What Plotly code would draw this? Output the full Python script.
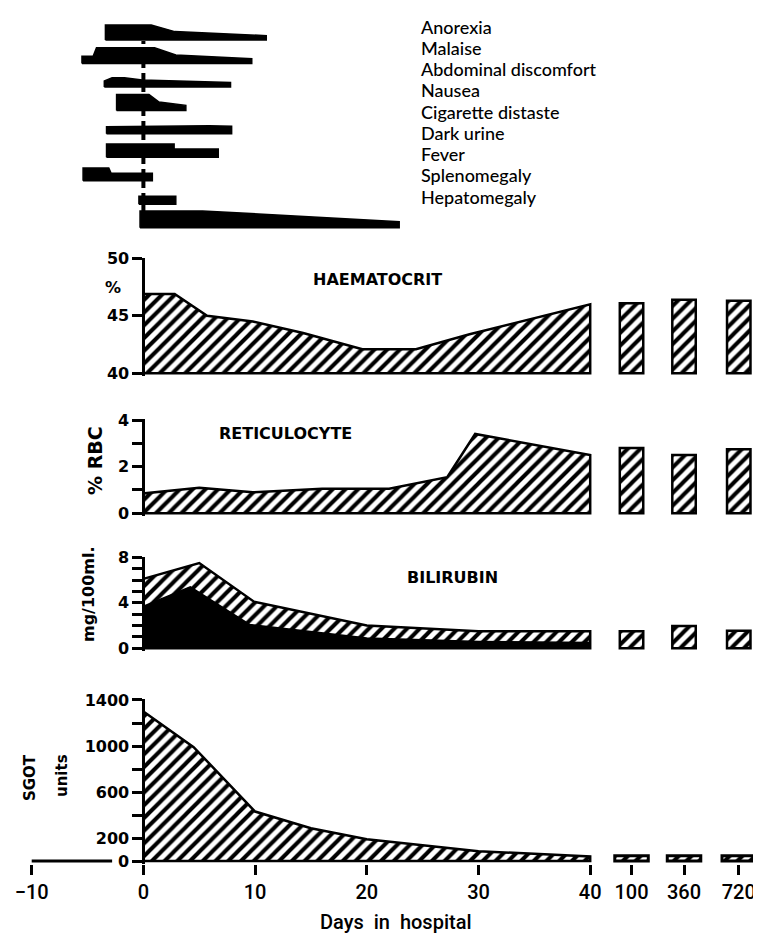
import plotly.graph_objects as go

W, H = 761, 938          # target picture size
OFF = 8                  # page body margin offset in the browser
FW, FH = W - OFF, H - OFF

# ---------------- data ----------------
symptoms = ["Anorexia", "Malaise", "Abdominal discomfort", "Nausea",
            "Cigarette distaste", "Dark urine", "Fever", "Splenomegaly", "Hepatomegaly"]

anorexia_days = [-3.4, 0.7, 2.8, 11.0]
anorexia_level = [3.75, 3.75, 2.1, 1.1]
malaise_days = [-5.5, -4.5, -4.2, 1.0, 2.9, 9.7]
malaise_level = [1.8, 1.8, 3.9, 3.9, 2.1, 1.2]
abdominal_days = [-3.5, -2.8, -1.7, -0.1, 7.8]
abdominal_level = [1.5, 2.3, 2.3, 1.75, 1.1]
nausea_days = [-2.4, 0.5, 1.4, 3.8]
nausea_level = [4.0, 4.0, 2.1, 1.25]
cigarette_days = [-3.3, 5.9, 7.9]
cigarette_level = [1.8, 2.0, 1.9]
dark_urine_days = [-3.3, 2.75, 2.75, 6.7]
dark_urine_level = [3.3, 3.3, 2.1, 2.1]
fever_days = [-5.4, -3.1, -2.9, 0.8]
fever_level = [3.2, 3.2, 1.9, 1.9]
spleno_days = [-0.4, 2.9]
spleno_level = [2.0, 2.0]
hepato_days = [-0.3, 3.2, 5.3, 22.9]
hepato_level = [4.2, 4.2, 4.2, 1.5]

haem_days = [0, 2.8, 5.7, 9.8, 14.3, 19.6, 24.4, 29.2, 40]
haem_pct = [46.9, 46.9, 45.0, 44.5, 43.5, 42.1, 42.1, 43.4, 46.0]
haem_follow = [46.1, 46.4, 46.3]

retic_days = [0, 5.0, 9.8, 16, 22, 27.2, 29.7, 40]
retic_pct = [0.85, 1.1, 0.9, 1.05, 1.05, 1.55, 3.4, 2.5]
retic_follow = [2.8, 2.5, 2.75]

bili_days = [0, 5, 9.9, 20, 30, 40]
bili_total = [6.1, 7.5, 4.1, 2.0, 1.5, 1.5]
bili_direct_days = [0, 4.2, 9.5, 20, 30, 40]
bili_direct = [3.7, 5.4, 2.1, 0.9, 0.6, 0.5]
bili_follow = [1.5, 1.95, 1.55]

sgot_days = [0, 4.5, 10, 15, 20, 30, 40]
sgot_units = [1300, 990, 430, 285, 190, 85, 40]
sgot_follow = [45, 45, 45]

follow_labels = ["100", "360", "720"]
day_ticks = [-10, 0, 10, 20, 30, 40]

# ---------------- layout helpers ----------------
X_M10_PX = 31.7
PX_PER_DAY = 11.17
x_range = [-10 - (X_M10_PX - OFF) / PX_PER_DAY, -10 + (W - X_M10_PX) / PX_PER_DAY]
follow_x = [43.7, 48.4, 53.3]


def xp(px):
    return (px - OFF) / FW


def yp(py):
    return 1 - (py - OFF) / FH


yaxis_pos = xp(X_M10_PX + 10 * PX_PER_DAY)


def panel(v0, p0, v1, p1, lo, hi):
    s = (p0 - p1) / (v1 - v0)
    bot = p0 + (v0 - lo) * s
    top = p0 - (hi - v0) * s
    return dict(domain=[yp(bot), yp(top)], range=[lo, hi])


def area_xy(days, vals, base):
    xs = [days[0]] + list(days) + [days[-1], days[0]]
    ys = [base] + list(vals) + [base, base]
    return xs, ys


HATCH = dict(shape="/", fgcolor="black", bgcolor="white", size=9, solidity=0.45)

fig = go.Figure()

# ---------------- symptoms panel ----------------
profiles = [(anorexia_days, anorexia_level), (malaise_days, malaise_level),
            (abdominal_days, abdominal_level), (nausea_days, nausea_level),
            (cigarette_days, cigarette_level), (dark_urine_days, dark_urine_level),
            (fever_days, fever_level), (spleno_days, spleno_level),
            (hepato_days, hepato_level)]
ROW_GAP = 23.46 / 4.0
for i, (d, lv) in enumerate(profiles):
    base = -i * ROW_GAP
    xs, ys = area_xy(d, [base + v for v in lv], base)
    fig.add_trace(go.Scatter(x=xs, y=ys, mode="lines", fill="toself", fillcolor="black",
                             line=dict(color="black", width=1.5), xaxis="x", yaxis="y",
                             hoverinfo="skip", showlegend=False))

# ---------------- haematocrit ----------------
xs, ys = area_xy(haem_days, haem_pct, 40)
fig.add_trace(go.Scatter(x=xs, y=ys, mode="lines", fill="toself", fillcolor="white",
                         fillpattern=HATCH, line=dict(color="black", width=2.5),
                         xaxis="x", yaxis="y2", showlegend=False))
fig.add_trace(go.Bar(x=follow_x, y=[v - 40 for v in haem_follow], base=[40] * 3, width=2.1,
                     marker=dict(color="white", line=dict(color="black", width=2.5), pattern=HATCH),
                     xaxis="x", yaxis="y2", showlegend=False))

# ---------------- reticulocyte ----------------
xs, ys = area_xy(retic_days, retic_pct, 0)
fig.add_trace(go.Scatter(x=xs, y=ys, mode="lines", fill="toself", fillcolor="white",
                         fillpattern=HATCH, line=dict(color="black", width=2.5),
                         xaxis="x", yaxis="y3", showlegend=False))
fig.add_trace(go.Bar(x=follow_x, y=retic_follow, width=2.1,
                     marker=dict(color="white", line=dict(color="black", width=2.5), pattern=HATCH),
                     xaxis="x", yaxis="y3", showlegend=False))

# ---------------- bilirubin ----------------
xs, ys = area_xy(bili_days, bili_total, 0)
fig.add_trace(go.Scatter(x=xs, y=ys, mode="lines", fill="toself", fillcolor="white",
                         fillpattern=HATCH, line=dict(color="black", width=2.5),
                         xaxis="x", yaxis="y4", showlegend=False))
xs, ys = area_xy(bili_direct_days, bili_direct, 0)
fig.add_trace(go.Scatter(x=xs, y=ys, mode="lines", fill="toself", fillcolor="black",
                         line=dict(color="black", width=1.5),
                         xaxis="x", yaxis="y4", showlegend=False))
fig.add_trace(go.Bar(x=follow_x, y=bili_follow, width=2.1,
                     marker=dict(color="white", line=dict(color="black", width=2.5), pattern=HATCH),
                     xaxis="x", yaxis="y4", showlegend=False))

# ---------------- SGOT ----------------
xs, ys = area_xy(sgot_days, sgot_units, 0)
fig.add_trace(go.Scatter(x=xs, y=ys, mode="lines", fill="toself", fillcolor="white",
                         fillpattern=HATCH, line=dict(color="black", width=2.5),
                         xaxis="x", yaxis="y5", showlegend=False))
fig.add_trace(go.Bar(x=follow_x, y=sgot_follow, width=3.0,
                     marker=dict(color="white", line=dict(color="black", width=3), pattern=HATCH),
                     xaxis="x", yaxis="y5", showlegend=False))

# ---------------- axes ----------------
TICKFONT = dict(family="DejaVu Sans", size=16, color="black", weight="bold")


def yax(p, tickvals, ticktext):
    d = dict(anchor="free", position=yaxis_pos, showline=True, linecolor="black", linewidth=3,
             ticks="outside", ticklen=10, tickwidth=2.5, tickcolor="black",
             tickvals=tickvals, ticktext=ticktext, tickfont=TICKFONT, automargin=False,
             showgrid=False, zeroline=False, fixedrange=True)
    d.update(p)
    return d


top_dom = [yp(240), yp(15)]
top_range = [6.25 - 225 / 4.0, 6.25]

fig.update_layout(
    template="none",
    width=FW, height=FH,
    margin=dict(l=0, r=0, t=0, b=0, pad=0, autoexpand=False),
    paper_bgcolor="white", plot_bgcolor="white",
    barmode="overlay", showlegend=False,
    xaxis=dict(domain=[0, 1], range=x_range, anchor="y5", showline=False,
               ticks="outside", ticklen=10, tickwidth=2.5, tickcolor="black",
               tickvals=day_ticks + follow_x,
               ticktext=["\u221210", "0", "10", "20", "30", "40"] + follow_labels,
               tickfont=dict(family="Roboto", size=20, color="black", weight=500),
               automargin=False, showgrid=False, zeroline=False, fixedrange=True),
    yaxis=dict(domain=top_dom, range=top_range, visible=False,
               anchor="x", fixedrange=True, automargin=False),
    yaxis2=yax(panel(40, 373.3, 50, 258.3, 39.75, 50.05), [40, 45, 50], ["40", "45", "50"]),
    yaxis3=yax(panel(0, 513.3, 4, 420, -0.12, 4.03), [0, 1, 2, 3, 4], ["0", "", "2", "", "4"]),
    yaxis4=yax(panel(0, 648.3, 8, 557.3, -0.25, 8.05), list(range(9)),
               ["0", "", "", "", "4", "", "", "", "8"]),
    yaxis5=yax(panel(0, 861, 1400, 700, -25, 1405), [0, 200, 400, 600, 800, 1000, 1200, 1400],
               ["0", "200", "", "600", "", "1000", "", "1400"]),
)

# dashed "day 0" line through the symptom bars
fig.add_shape(type="line", xref="x", yref="paper", x0=0, x1=0,
              y0=yp(212), y1=yp(41), layer="below",
              line=dict(color="black", width=4, dash="7px,5px"))
# SGOT base line to the left of the axis
fig.add_shape(type="line", xref="x", yref="y5", x0=-10, x1=-2.8, y0=0, y1=0,
              line=dict(color="black", width=3))

# ---------------- annotations ----------------
for i, name in enumerate(symptoms):
    fig.add_annotation(text=name, xref="paper", yref="paper", x=xp(419),
                       y=yp(26.7 + i * 21.25), xanchor="left", yanchor="middle",
                       showarrow=False, font=dict(family="Lato", size=18, color="black", weight=500))

BOLD = dict(family="DejaVu Sans", size=16, color="black", weight="bold")


def label(text, px, py, font=BOLD, angle=0):
    fig.add_annotation(text=text, xref="paper", yref="paper", x=xp(px), y=yp(py),
                       xanchor="center", yanchor="middle", showarrow=False,
                       font=font, textangle=angle)


label("HAEMATOCRIT", 377.5, 279)
label("RETICULOCYTE", 285, 434)
label("BILIRUBIN", 452.5, 577.5)
label("%", 113, 288)
label("% RBC", 95, 461, font=dict(family="DejaVu Sans", size=19, color="black", weight="bold"), angle=-90)
label("mg/100ml.", 88, 594, font=dict(family="DejaVu Sans", size=16, color="black", weight="bold"), angle=-90)
label("SGOT", 30, 778, font=dict(family="DejaVu Sans", size=15, color="black", weight="bold"), angle=-90)
label("units", 62, 776, font=dict(family="DejaVu Sans", size=15, color="black", weight="bold"), angle=-90)
label("Days  in  hospital", 396, 922, font=dict(family="Roboto", size=20, color="black", weight=500))

fig.write_html("out.html")
